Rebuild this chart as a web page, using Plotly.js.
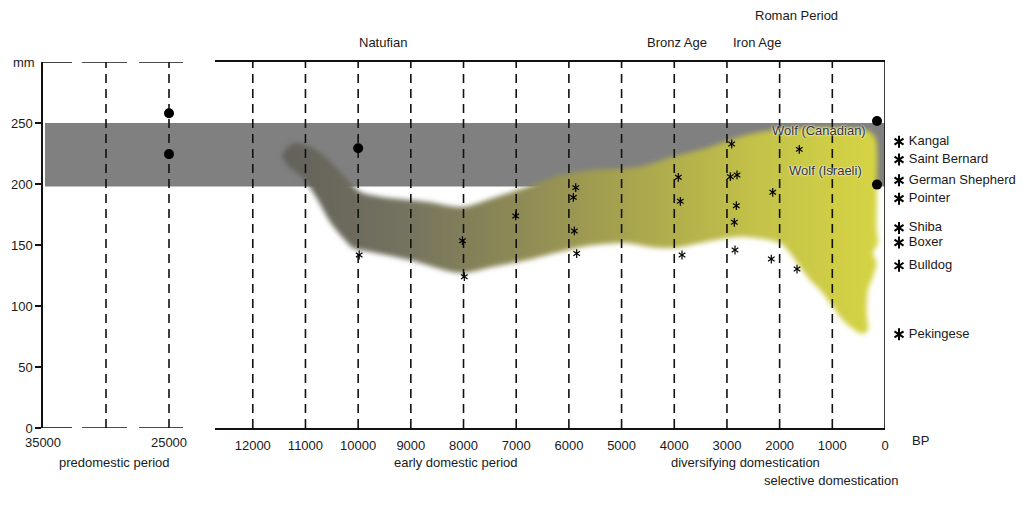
<!DOCTYPE html>
<html>
<head>
<meta charset="utf-8">
<script src="https://cdn.plot.ly/plotly-3.0.1.min.js"></script>
<style>html,body{margin:0;padding:0;background:#fff;}#chart{width:1024px;height:505px;}</style>
</head>
<body>
<div id="chart"></div>
<script>
// ---- data ----
const leftTicks = [35000, 30000, 25000];
const leftTickText = ['35000', '', '25000'];
const leftDashed = [30000, 25000];
const rightTicks = [12000, 11000, 10000, 9000, 8000, 7000, 6000, 5000, 4000, 3000, 2000, 1000, 0];
const rightTickText = ['12000', '11000', '10000', '9000', '8000', '7000', '6000', '5000', '4000', '3000', '2000', '1000', '0'];
const rightDashed = [12000, 11000, 10000, 9000, 8000, 7000, 6000, 5000, 4000, 3000, 2000, 1000];
const yTicks = [0, 50, 100, 150, 200, 250];
const wolfBandMM = [198, 250];

const predomDotBP = [25000, 25000];
const predomDotMM = [258, 224.5];
const fossilDotBP = [10000];
const fossilDotMM = [229.3];
const wolfDotBP = [152, 152];
const wolfDotMM = [251.6, 199.5];

const starBP = [9980, 8020, 7985, 7010, 5870, 5915, 5897, 5852, 3923, 3885, 3853, 2910, 2936, 2809, 2822, 2860, 2847, 1627, 2131, 2158, 1670];
const starMM = [141.8, 153.5, 124, 173.8, 197, 189, 161.5, 143, 205.5, 185.8, 141.8, 232.8, 206, 207.4, 182.2, 168.6, 145.9, 228.4, 193.2, 138.5, 130.3];

// modern breeds (present day, plotted in the column right of 0 BP)
const breedNames = ['Kangal', 'Saint Bernard', 'German Shepherd', 'Pointer', 'Shiba', 'Boxer', 'Bulldog', 'Pekingese'];
const breedMM = [234.7, 220, 203, 188, 164, 152, 133, 76.8];
const breedBP = [-266, -266, -266, -266, -266, -266, -266, -266];

const blobBP = [11451, 11236, 10914, 10597, 10287, 9965, 9585, 8699, 8010, 7440, 6795, 6169, 5542, 4650, 4024, 3384, 2752, 2126, 1486, 854, 285, 171,
  152, 158, 133, 228, 158, 228, 323, 347, 323, 418,
  664, 854, 1012, 1234, 1424, 1613, 1803, 1993, 2752, 3384, 4024, 4460, 4902, 5542, 6169, 6795, 7440, 8067, 9016, 9775, 10097, 10287, 10534, 10787, 11046, 11356];
const blobMM = [223.8, 233.4, 230.6, 221.3, 207.4, 193.7, 189.6, 185.5, 181.1, 188.5, 197.5, 207.4, 211.5, 214.2, 222.4, 229.5, 238.8, 244.3, 245.9, 245.9, 242.9, 236.1,
  203.3, 162.3, 151.6, 143.4, 135.2, 124, 113.1, 94.3, 80.3, 77,
  83, 91.2, 100.8, 113.1, 121.3, 132.2, 143.4, 151.6, 156.8, 152.7, 147.5, 148.4, 151.6, 150, 144.5, 137.7, 132.2, 127, 137.7, 144.5, 147.5, 155.7, 169.1, 188.5, 204.9, 215.6];

// ---- helpers ----
function vlines(xs, lo, hi) {
  const x = [], y = [];
  xs.forEach(v => { x.push(v, v, null); y.push(lo, hi, null); });
  return {x, y};
}
const FONT = 'Liberation Sans, Arial, sans-serif';
const TXT = '#1a1a1a';
const FS = 13;

const dl = vlines(leftDashed, 0, 300);
const dr = vlines(rightDashed, 0, 300);

const data = [
  { // growth band
    x: blobBP, y: blobMM, xaxis: 'x2', yaxis: 'y', type: 'scatter', mode: 'lines',
    fill: 'toself', line: {width: 0, shape: 'spline', smoothing: 0.8},
    fillgradient: {type: 'horizontal', start: 11450, stop: 150,
      colorscale: [[0, '#62615a'], [0.2, '#74725f'], [0.4, '#8e8a55'], [0.6, '#aaa74e'], [0.8, '#c4c249'], [1, '#d5d443']]},
    hoverinfo: 'skip', showlegend: false
  },
  { x: dl.x, y: dl.y, xaxis: 'x', yaxis: 'y', mode: 'lines', line: {color: '#111', width: 1.6, dash: '9px,6px'}, showlegend: false, hoverinfo: 'skip' },
  { x: dr.x, y: dr.y, xaxis: 'x2', yaxis: 'y', mode: 'lines', line: {color: '#111', width: 1.6, dash: '9px,6px'}, showlegend: false, hoverinfo: 'skip' },
  { x: predomDotBP, y: predomDotMM, xaxis: 'x', yaxis: 'y', mode: 'markers', marker: {color: '#000', size: 10}, showlegend: false },
  { x: fossilDotBP, y: fossilDotMM, xaxis: 'x2', yaxis: 'y', mode: 'markers', marker: {color: '#000', size: 10}, showlegend: false },
  { x: wolfDotBP, y: wolfDotMM, xaxis: 'x2', yaxis: 'y', mode: 'markers', marker: {color: '#000', size: 10}, showlegend: false, cliponaxis: false },
  { x: starBP, y: starMM, xaxis: 'x2', yaxis: 'y', mode: 'markers', marker: {symbol: 'y-up-open', color: '#000', size: 5.5, line: {color: '#000', width: 1.2}}, showlegend: false },
  { x: starBP, y: starMM, xaxis: 'x2', yaxis: 'y', mode: 'markers', marker: {symbol: 'y-down-open', color: '#000', size: 5.5, line: {color: '#000', width: 1.2}}, showlegend: false },
  { x: breedBP, y: breedMM, xaxis: 'x3', yaxis: 'y', mode: 'markers', cliponaxis: false, marker: {symbol: 'y-up-open', color: '#000', size: 7.5, line: {color: '#000', width: 2}}, showlegend: false },
  { x: breedBP, y: breedMM, xaxis: 'x3', yaxis: 'y', mode: 'markers', cliponaxis: false, marker: {symbol: 'y-down-open', color: '#000', size: 7.5, line: {color: '#000', width: 2}}, showlegend: false },
  { x: breedBP, y: breedMM, xaxis: 'x3', yaxis: 'y', mode: 'markers+text', cliponaxis: false, text: breedNames, textposition: 'middle right',
    textfont: {family: FONT, size: FS, color: TXT},
    marker: {symbol: 'circle', color: 'rgba(0,0,0,0)', size: 14}, showlegend: false }
];

const LW = 1.6;
const seg = (x0, x1, y) => ({type: 'line', xref: 'x', yref: 'y', x0: x0, x1: x1, y0: y, y1: y, line: {color: '#111', width: LW}});
const X2END = 0.85831;
const shapes = [
  {type: 'rect', xref: 'paper', yref: 'y', x0: 0.002, x1: X2END, y0: wolfBandMM[0], y1: wolfBandMM[1], fillcolor: '#808080', line: {width: 0}, layer: 'below'},
  seg(35000, 32700, 0), seg(31900, 28330, 0), seg(27380, 23890, 0),
  seg(35000, 32700, 300), seg(31900, 28330, 300), seg(27380, 23890, 300),
  {type: 'line', xref: 'x2', yref: 'y', x0: 0, x1: 0, y0: 0, y1: 300, line: {color: '#111', width: LW}}
];

const ann = (text, x, y, opts) => Object.assign({text: text, x: x, y: y, xref: 'paper', yref: 'paper', showarrow: false,
  font: {family: FONT, size: FS, color: TXT}, xanchor: 'center', yanchor: 'middle'}, opts || {});
const wolfFont = {family: FONT, size: 13, color: '#333', shadow: '0 0 2px #fff, 0 0 2px #fff'};

const annotations = [
  ann('Natufian', 0.3466, 1.0546),
  ann('Bronz Age', 0.6463, 1.0546),
  ann('Iron Age', 0.7278, 1.0546),
  ann('Roman Period', 0.7686, 1.1257),
  ann('predomestic period', 0.0724, -0.0929),
  ann('early domestic period', 0.4210, -0.0929),
  ann('diversifying domestication', 0.7156, -0.0929),
  ann('selective domestication', 0.8033, -0.1448),
  ann('BP', 0.8950, -0.0355),
  ann('mm', -0.0061, 1.0, {xanchor: 'right'}),
  ann('Wolf (Canadian)', 1253, 244, {xref: 'x2', yref: 'y', font: wolfFont}),
  ann('Wolf (Israeli)', 1120, 210.7, {xref: 'x2', yref: 'y', font: wolfFont})
];

const layout = {
  width: 1024, height: 505, autosize: false,
  margin: {l: 43, r: 0, t: 62, b: 77, pad: 0},
  paper_bgcolor: '#fff', plot_bgcolor: 'rgba(0,0,0,0)',
  font: {family: FONT, size: FS, color: TXT},
  showlegend: false,
  xaxis: {domain: [0, 0.14271], range: [35000, 23890], tickvals: leftTicks, ticktext: leftTickText,
    showgrid: false, zeroline: false, showline: false, ticks: '', anchor: 'y', ticklabelstandoff: 5,
    tickfont: {family: FONT, size: FS, color: TXT}},
  xaxis2: {domain: [0.17533, X2END], range: [12717, 0], tickvals: rightTicks, ticktext: rightTickText, showgrid: false, zeroline: false,
    showline: true, mirror: true, linecolor: '#111', linewidth: LW, ticks: '', anchor: 'y', ticklabelstandoff: 5,
    tickfont: {family: FONT, size: FS, color: TXT}},
  xaxis3: {domain: [X2END, 1], range: [0, -2638], visible: false, showgrid: false, zeroline: false, anchor: 'y'},
  yaxis: {range: [0, 300], tickvals: yTicks, showgrid: false, zeroline: false, showline: true,
    linecolor: '#111', linewidth: LW, ticks: 'outside', ticklen: 6, tickwidth: LW, tickcolor: '#111',
    tickfont: {family: FONT, size: FS, color: TXT}, anchor: 'x'},
  shapes: shapes,
  annotations: annotations
};

const gd = document.getElementById('chart');
Plotly.newPlot(gd, data, layout, {staticPlot: true, displayModeBar: false}).then(function () {
  const ns = 'http://www.w3.org/2000/svg';
  const svg = gd.querySelector('svg.main-svg');
  let defs = svg.querySelector('defs');
  if (!defs) { defs = document.createElementNS(ns, 'defs'); svg.insertBefore(defs, svg.firstChild); }
  const f = document.createElementNS(ns, 'filter');
  f.setAttribute('id', 'blobblur');
  f.setAttribute('x', '-10%'); f.setAttribute('y', '-10%');
  f.setAttribute('width', '120%'); f.setAttribute('height', '120%');
  const b = document.createElementNS(ns, 'feGaussianBlur');
  b.setAttribute('stdDeviation', '2.5');
  f.appendChild(b); defs.appendChild(f);
  gd.querySelectorAll('.js-fill').forEach(p => p.setAttribute('filter', 'url(#blobblur)'));
});
</script>
</body>
</html>
